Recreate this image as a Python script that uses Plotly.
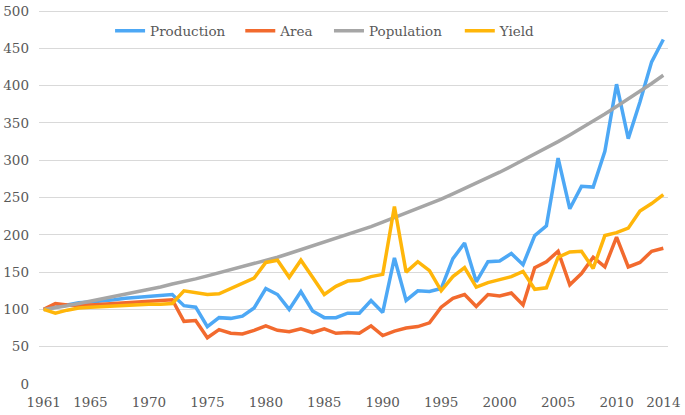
import plotly.graph_objects as go

years = list(range(1961, 2015))

production = [100, 103, 107, 109, 110, 111, 113, 115, 116, 117, 119, 120,
              105, 103, 77, 89, 88, 91, 102, 128, 120, 100, 124, 98, 89, 89,
              95, 95, 112, 96, 169, 112, 125, 124, 128, 168, 189, 137, 164,
              165, 175, 160, 199, 212, 303, 235, 265, 264, 312, 402, 329, 378,
              432, 462]

area = [100, 108, 106, 105, 106, 107, 108, 109, 110, 111, 111, 113,
        84, 85, 62, 73, 68, 67, 72, 78, 72, 70, 74, 69, 74, 68,
        69, 68, 78, 65, 71, 75, 77, 82, 103, 115, 120, 104, 120,
        118, 122, 106, 156, 164, 178, 133, 148, 170, 157, 197, 157, 163,
        178, 182]

population = [100, 102, 105, 108, 111, 114, 117, 120, 123, 127, 130, 134,
              137, 141, 145, 149, 153, 157, 161, 166, 170, 175, 180, 185, 190, 195,
              200, 206, 211, 217, 223, 229, 235, 242, 248, 255, 262, 269, 277,
              284, 292, 300, 308, 317, 325, 334, 343, 353, 362, 372, 382, 393,
              403, 414]

yield_ = [100, 95, 99, 102, 103, 104, 105, 105, 106, 107, 107, 108,
          125, 122, 120, 121, 128, 135, 142, 163, 166, 143, 166, 143, 120, 131,
          138, 139, 144, 147, 238, 150, 164, 152, 125, 144, 156, 130, 136,
          140, 144, 151, 127, 129, 170, 177, 178, 155, 199, 203, 209, 232,
          242, 254]

x_ticks = [1961, 1965, 1970, 1975, 1980, 1985, 1990, 1995, 2000, 2005, 2010, 2014]
y_ticks = list(range(0, 501, 50))

series = [
    ("Production", production, "#4DA8F5"),
    ("Area", area, "#F26A2E"),
    ("Population", population, "#A6A6A6"),
    ("Yield", yield_, "#FFB60A"),
]
legend_x = [0.113, 0.320, 0.461, 0.669]

font_family = "DejaVu Serif"
text_color = "#595959"

fig = go.Figure()
layout_legends = {}
for i, (name, vals, color) in enumerate(series):
    lg = "legend" if i == 0 else f"legend{i + 1}"
    fig.add_trace(go.Scatter(x=years, y=vals, name=name, mode="lines",
                             line=dict(color=color, width=3.5), legend=lg))
    layout_legends[lg] = dict(orientation="h", x=legend_x[i], xanchor="left",
                              y=0.944, yanchor="middle",
                              font=dict(family=font_family, size=13.5, color=text_color),
                              bgcolor="rgba(0,0,0,0)", borderwidth=0)

fig.update_layout(
    width=685, height=415,
    margin=dict(l=39, r=17, t=10, b=31),
    paper_bgcolor="white", plot_bgcolor="white",
    font=dict(family=font_family, size=13.5, color=text_color),
    showlegend=True,
    xaxis=dict(range=[1960.6, 2014.4], tickvals=x_ticks,
               ticktext=[str(t) for t in x_ticks], showgrid=False,
               zeroline=False, showline=False, ticks="", ticklabelstandoff=8,
               automargin=False,
               tickfont=dict(family=font_family, size=13.5, color=text_color)),
    yaxis=dict(range=[0, 501.5], tickvals=y_ticks, showgrid=True,
               gridcolor="#D9D9D9", gridwidth=1, zeroline=False, showline=False,
               ticks="", ticklabelstandoff=9, automargin=False,
               tickfont=dict(family=font_family, size=13.5, color=text_color)),
    **layout_legends,
)

fig.write_html("out.html", config={"displayModeBar": False},
               post_script="document.body.style.margin='0';document.body.style.overflow='hidden';")
